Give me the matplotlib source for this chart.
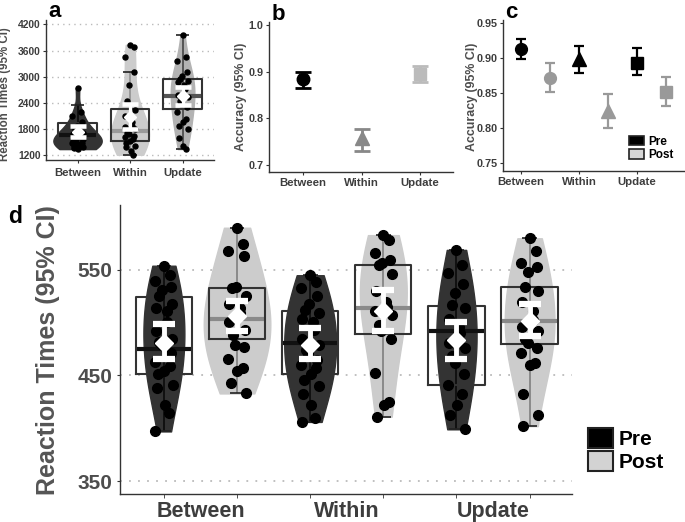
import numpy as np
import matplotlib.pyplot as plt
from matplotlib.patches import Patch

plt.rcParams['font.family'] = ['Liberation Sans', 'DejaVu Sans']
plt.rcParams['font.weight'] = 'bold'
plt.rcParams['axes.labelweight'] = 'bold'

# ---------------- data ----------------
conditions = ['Between', 'Within', 'Update']
sessions = ['Pre', 'Post']

# panel a: reaction times per condition (ms)
rt_between = [2740, 2200, 2100, 1950, 1880, 1800, 1720, 1690, 1640, 1610, 1580,
              1560, 1530, 1510, 1490, 1470, 1450, 1420, 1400, 1380, 1360, 1340]
rt_within = [3730, 3680, 3450, 3100, 2800, 2450, 2230, 2100, 1950, 1880, 1850, 1800,
             1720, 1690, 1650, 1610, 1570, 1530, 1470, 1420, 1380, 1300, 1210]
rt_update = [3950, 3450, 3370, 3100, 3020, 2950, 2910, 2870, 2800, 2720, 2570, 2530,
             2450, 2380, 2300, 2180, 2030, 1950, 1880, 1800, 1600, 1420, 1340]
rt_q1 = [1490, 1530, 2260]
rt_med = [1660, 1760, 2550]
rt_q3 = [1940, 2260, 2950]
rt_whislo = [1340, 1210, 1340]
rt_whishi = [2340, 3100, 3950]
rt_mean = [1740, 2070, 2565]
rt_ci_lo = [1620, 1790, 2360]
rt_ci_hi = [1875, 2370, 2775]

# panel b: accuracy per condition
acc_mean = [0.883, 0.757, 0.895]
acc_ci_lo = [0.864, 0.729, 0.877]
acc_ci_hi = [0.900, 0.777, 0.912]

# panel c: accuracy pre / post
acc_pre_mean = [0.912, 0.898, 0.893]
acc_pre_lo = [0.898, 0.878, 0.875]
acc_pre_hi = [0.927, 0.917, 0.914]
acc_post_mean = [0.871, 0.824, 0.852]
acc_post_lo = [0.851, 0.800, 0.832]
acc_post_hi = [0.892, 0.848, 0.873]

# panel d: reaction times pre / post (order: Between pre, post, Within pre, post, Update pre, post)
d_between_pre = [554, 545, 540, 534, 531, 525, 518, 514, 511, 501, 492, 485,
                 482, 479, 471, 463, 459, 454, 451, 441, 438, 422, 414, 397]
d_between_post = [590, 575, 568, 563, 534, 533, 525, 518, 514, 509, 501, 493,
                  488, 479, 477, 466, 457, 454, 443, 433]
d_within_pre = [545, 539, 533, 525, 518, 512, 509, 504, 501, 493, 485, 479,
                474, 470, 465, 460, 457, 451, 446, 440, 432, 422, 410, 406]
d_within_post = [583, 578, 566, 559, 557, 555, 546, 530, 520, 515, 511, 507,
                 498, 492, 485, 452, 425, 422, 411]
d_update_pre = [569, 555, 547, 537, 528, 517, 514, 504, 496, 490, 481, 476,
                468, 462, 451, 441, 432, 422, 413, 399]
d_update_post = [580, 568, 557, 553, 548, 534, 530, 520, 511, 503, 496, 492,
                 485, 481, 476, 471, 462, 460, 432, 413, 402]
d_q1 = [451, 485, 451, 489, 441, 480]
d_med = [475, 504, 481, 514, 492, 502]
d_q3 = [524, 533, 511, 555, 516, 534]
d_mean = [481, 506, 479, 511, 484, 502]
d_ci_lo = [466, 492, 466, 492, 466, 487]
d_ci_hi = [499, 521, 495, 531, 501, 518]

PRE = '#333333'
POST = '#cccccc'
TXT = '#3d3d3d'


def style_axis(ax, fs_x, fs_y, pad_x):
    for s in ['top', 'right']:
        ax.spines[s].set_visible(False)
    for s in ['left', 'bottom']:
        ax.spines[s].set_color('#333333')
        ax.spines[s].set_linewidth(1)
    ax.tick_params(axis='both', length=2.5, width=0.8, color='#333333', labelcolor=TXT)
    ax.tick_params(axis='x', labelsize=fs_x, pad=pad_x)
    ax.tick_params(axis='y', labelsize=fs_y, pad=1.5)


def draw_violins(ax, groups, pos, fills, lines, vwidths, q1, med, q3, wlo, whi,
                 mean, lo, hi, boxw, capw, ptsize, jit, ms, elw, caps, bw):
    pos = np.asarray(pos, dtype=float)
    parts = ax.violinplot(groups, positions=pos, widths=vwidths, showextrema=False,
                          bw_method=bw)
    for body, c in zip(parts['bodies'], fills):
        body.set_facecolor(c)
        body.set_edgecolor(c)
        body.set_alpha(1)
        body.set_zorder(1)
    # whisker line through the violin with small caps
    ax.vlines(pos, wlo, whi, colors=lines, lw=1.4, zorder=2)
    ax.hlines(wlo, pos - capw / 2, pos + capw / 2, colors='#222222', lw=1.2, zorder=2)
    ax.hlines(whi, pos - capw / 2, pos + capw / 2, colors='#222222', lw=1.2, zorder=2)
    stats = [dict(q1=a, med=b, q3=c, whislo=a, whishi=c) for a, b, c in zip(q1, med, q3)]
    bp = ax.bxp(stats, positions=pos, widths=boxw, showcaps=False, showfliers=False,
                boxprops=dict(color='#333333', lw=1.5),
                whiskerprops=dict(linestyle='none'),
                medianprops=dict(lw=3), manage_ticks=False)
    for line, c in zip(bp['medians'], lines):
        line.set_color(c)
    for line in bp['boxes']:
        line.set_zorder(3)
    for p, g in zip(pos, groups):
        k = np.arange(len(g))
        ax.plot(p + jit * np.sin(k * 2.4), g, 'o', color='black', ms=ptsize, mec='black',
                zorder=4)
    mean = np.asarray(mean)
    ax.errorbar(pos, mean, yerr=[mean - np.asarray(lo), np.asarray(hi) - mean], fmt='D',
                color='white', mec='white', ms=ms, elinewidth=elw, capsize=caps,
                capthick=elw + 1, zorder=5)


fig = plt.figure(figsize=(6.85, 5.22), dpi=100)

# ---------------- panel a ----------------
ax_a = fig.add_axes([0.0672, 0.6935, 0.2453, 0.2682])
ax_a.yaxis.grid(True, linestyle=(0, (1, 3)), color='#bbbbbb', lw=1)
ax_a.set_axisbelow(True)
draw_violins(ax_a, [rt_between, rt_within, rt_update], [1, 2, 3],
             [PRE, POST, '#b3b3b3'], ['#111111', '#999999', '#555555'],
             [0.92, 0.72, 0.45], rt_q1, rt_med, rt_q3, rt_whislo, rt_whishi,
             rt_mean, rt_ci_lo, rt_ci_hi, 0.74, 0.25, 3.6, 0.1, 6, 2.3, 6, 0.6)
ax_a.set_xlim(0.4, 3.6)
ax_a.set_ylim(1090, 4300)
ax_a.set_yticks([1200, 1800, 2400, 3000, 3600, 4200])
ax_a.set_xticks([1, 2, 3])
ax_a.set_xticklabels(conditions)
style_axis(ax_a, 8.2, 7.4, 3)
ax_a.set_ylabel('Reaction Times (95% CI)', fontsize=8.3, color='#4d4d4d')
ax_a.yaxis.set_label_coords(-0.21, 0.47)

# ---------------- panel b ----------------
ax_b = fig.add_axes([0.3927, 0.6705, 0.2686, 0.2874])
b_markers = ['o', '^', 's']
b_colors = ['black', '#888888', '#bbbbbb']
b_sizes = [9, 10, 8]
for i in range(3):
    m = acc_mean[i]
    ax_b.errorbar(i + 1, m, yerr=[[m - acc_ci_lo[i]], [acc_ci_hi[i] - m]],
                  fmt=b_markers[i], color=b_colors[i], ms=b_sizes[i], elinewidth=2,
                  capsize=5.5, capthick=2)
ax_b.set_xlim(0.42, 3.56)
ax_b.set_ylim(0.685, 1.006)
ax_b.set_yticks([0.7, 0.8, 0.9, 1.0])
ax_b.set_yticklabels(['0.7', '0.8', '0.9', '1.0'])
ax_b.set_xticks([1, 2, 3])
ax_b.set_xticklabels(conditions)
style_axis(ax_b, 8.2, 7.8, 2)
ax_b.set_ylabel('Accuracy (95% CI)', fontsize=8.9, color='#4d4d4d')
ax_b.yaxis.set_label_coords(-0.12, 0.5)

# ---------------- panel c ----------------
ax_c = fig.add_axes([0.7343, 0.6724, 0.2657, 0.2893])
c_markers = ['o', '^', 's']
c_sizes = [8.5, 9.5, 8]
for i in range(3):
    m = acc_pre_mean[i]
    ax_c.errorbar(i + 1, m, yerr=[[m - acc_pre_lo[i]], [acc_pre_hi[i] - m]],
                  fmt=c_markers[i], color='black', ms=c_sizes[i], elinewidth=1.6,
                  capsize=3.5, capthick=1.6)
    m = acc_post_mean[i]
    ax_c.errorbar(i + 1.5, m, yerr=[[m - acc_post_lo[i]], [acc_post_hi[i] - m]],
                  fmt=c_markers[i], color='#999999', ms=c_sizes[i], elinewidth=1.6,
                  capsize=3.5, capthick=1.6)
ax_c.set_xlim(0.69, 3.83)
ax_c.set_ylim(0.7386, 0.954)
ax_c.set_yticks([0.75, 0.80, 0.85, 0.90, 0.95])
ax_c.set_yticklabels(['0.75', '0.80', '0.85', '0.90', '0.95'])
ax_c.set_xticks([1, 2, 3])
ax_c.set_xticklabels(conditions)
style_axis(ax_c, 8.2, 7.8, 2)
ax_c.set_ylabel('Accuracy (95% CI)', fontsize=8.9, color='#4d4d4d')
ax_c.yaxis.set_label_coords(-0.137, 0.49)
leg_c = ax_c.legend([Patch(facecolor='black', edgecolor='#222222', lw=1.2),
                     Patch(facecolor='#d6d6d6', edgecolor='#222222', lw=1.2)],
                    sessions, loc='upper left', bbox_to_anchor=(0.692, 0.235),
                    frameon=False, fontsize=8.5, handlelength=1.3, handleheight=0.9,
                    labelspacing=0.12, handletextpad=0.3, borderpad=0, borderaxespad=0)

# ---------------- panel d ----------------
ax_d = fig.add_axes([0.1752, 0.0536, 0.6599, 0.5536])
ax_d.yaxis.grid(True, linestyle=(0, (1, 4)), color='#bbbbbb', lw=1.3)
ax_d.set_axisbelow(True)
d_groups = [d_between_pre, d_between_post, d_within_pre, d_within_post,
            d_update_pre, d_update_post]
draw_violins(ax_d, d_groups, [1, 2, 3, 4, 5, 6],
             [PRE, POST] * 3, ['#111111', '#8a8a8a'] * 3,
             [0.56, 0.91, 0.71, 0.64, 0.55, 0.68], d_q1, d_med, d_q3,
             [min(g) for g in d_groups], [max(g) for g in d_groups],
             d_mean, d_ci_lo, d_ci_hi, 0.77, 0.2, 7, 0.12, 9, 3.5, 8, 0.8)
ax_d.set_xlim(0.4, 6.58)
ax_d.set_ylim(337.7, 611.5)
ax_d.set_yticks([350, 450, 550])
ax_d.set_xticks([1.5, 3.5, 5.5])
ax_d.set_xticklabels(conditions)
ax_d.set_xticks([1, 2, 3, 4, 5, 6], minor=True)
style_axis(ax_d, 15.5, 15, 5)
ax_d.tick_params(axis='x', which='major', length=0)
ax_d.tick_params(axis='x', which='minor', length=3, color='#333333')
ax_d.tick_params(axis='y', labelcolor='#4d4d4d', pad=3)
ax_d.set_ylabel('Reaction Times (95% CI)', fontsize=18, color='#555555')
ax_d.yaxis.set_label_coords(-0.133, 0.498)
ax_d.legend([Patch(facecolor='black', edgecolor='#222222', lw=1.5),
             Patch(facecolor='#d3d3d3', edgecolor='#222222', lw=1.5)],
            sessions, loc='upper left', bbox_to_anchor=(1.035, 0.228),
            frameon=False, fontsize=15, handlelength=1.2, handleheight=1.1,
            labelspacing=0.1, handletextpad=0.3, borderpad=0, borderaxespad=0)

# panel letters
fig.text(48 / 685, 1 - 17 / 522, 'a', fontsize=16, weight='bold')
fig.text(272 / 685, 1 - 20 / 522, 'b', fontsize=16, weight='bold')
fig.text(505 / 685, 1 - 18 / 522, 'c', fontsize=16, weight='bold')
fig.text(8 / 685, 1 - 223 / 522, 'd', fontsize=16.5, weight='bold')

fig.savefig('out.png', dpi=100)
